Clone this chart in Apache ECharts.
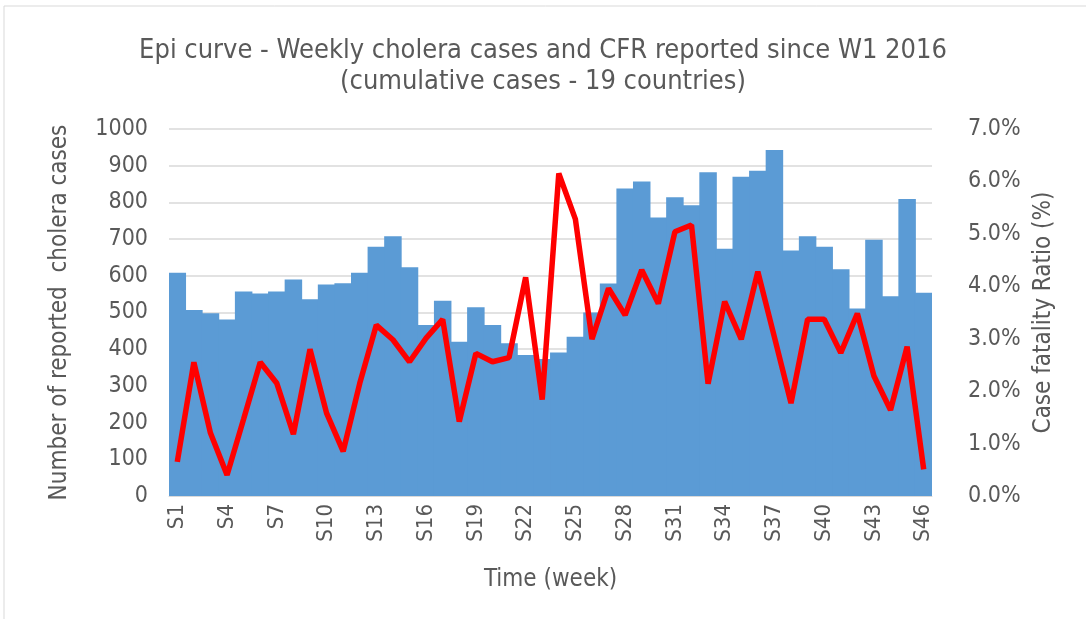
<!DOCTYPE html>
<html>
<head>
<meta charset="utf-8">
<script src="https://cdn.jsdelivr.net/npm/echarts@6/dist/echarts.min.js"></script>
<style>
  html, body { margin: 0; padding: 0; background: #fff; }
  #chart { width: 1086px; height: 619px; }
</style>
</head>
<body>
<div id="chart"></div>
<script>
// weeks S1..S46
var weeks = [];
for (var i = 1; i <= 46; i++) {
    weeks.push('S' + i);
}

// weekly cases
var cases = [608, 507, 498, 481, 557, 552, 557, 590, 536, 576,
             580, 608, 679, 708, 623, 466, 532, 420, 514, 466,
             416, 384, 373, 391, 434, 500, 579, 838, 857, 759,
             814, 792, 882, 674, 870, 886, 943, 669, 708, 679,
             618, 511, 698, 544, 809, 554];

// case fatality ratio (%)
var cfr = [0.65, 2.55, 1.20, 0.40, 1.47, 2.55, 2.15, 1.18, 2.80, 1.58,
           0.85, 2.15, 3.26, 2.98, 2.56, 3.01, 3.37, 1.42, 2.72, 2.56,
           2.64, 4.17, 1.84, 6.15, 5.28, 2.99, 3.96, 3.45, 4.31, 3.67,
           5.04, 5.17, 2.14, 3.71, 2.99, 4.28, 3.03, 1.77, 3.37, 3.37,
           2.73, 3.48, 2.29, 1.64, 2.85, 0.51];

var textColor = '#595959';
var fontFam = '"Liberation Sans Narrow", "DejaVu Sans Condensed", sans-serif';

var myChart = echarts.init(document.getElementById('chart'));
var option = {
    animation: false,
    textStyle: { fontFamily: fontFam, color: textColor },
    title: {
        text: 'Epi curve - Weekly cholera cases and CFR reported since W1 2016\n(cumulative cases - 19 countries)',
        left: 'center',
        top: 30,
        textStyle: {
            fontFamily: fontFam,
            fontWeight: 'normal',
            fontSize: 27,
            lineHeight: 31,
            color: textColor
        }
    },
    grid: {
        left: 169,
        right: 154,
        top: 129,
        bottom: 123
    },
    xAxis: {
        type: 'category',
        data: weeks,
        name: 'Time (week)',
        nameLocation: 'middle',
        nameGap: 72,
        nameTextStyle: { fontSize: 24, color: textColor, fontFamily: fontFam },
        axisLine: { lineStyle: { color: '#d9d9d9' } },
        axisTick: { show: false },
        axisLabel: {
            interval: 2,
            rotate: 90,
            fontSize: 22,
            color: textColor,
            margin: 8
        }
    },
    yAxis: [
        {
            type: 'value',
            min: 0,
            max: 1000,
            interval: 100,
            name: 'Number of reported  cholera cases',
            nameLocation: 'middle',
            nameGap: 97,
            nameTextStyle: { fontSize: 24, color: textColor, fontFamily: fontFam },
            axisLabel: {
                fontSize: 23,
                color: textColor,
                margin: 21,
                formatter: function (v) { return String(v); }
            },
            axisLine: { show: false },
            axisTick: { show: false },
            splitLine: { lineStyle: { color: '#d9d9d9', width: 1.5 } }
        },
        {
            type: 'value',
            min: 0,
            max: 7,
            interval: 1,
            name: 'Case fatality Ratio (%)',
            nameLocation: 'middle',
            nameGap: 98,
            nameTextStyle: { fontSize: 24, color: textColor, fontFamily: fontFam },
            axisLabel: {
                fontSize: 23,
                color: textColor,
                margin: 36,
                formatter: function (v) { return v.toFixed(1) + '%'; }
            },
            axisLine: { show: false },
            axisTick: { show: false },
            splitLine: { show: false }
        }
    ],
    series: [
        {
            name: 'Cases',
            type: 'bar',
            data: cases,
            barWidth: 17.5,
            itemStyle: { color: '#5b9bd5' }
        },
        {
            name: 'CFR',
            type: 'line',
            yAxisIndex: 1,
            data: cfr,
            showSymbol: false,
            symbol: 'none',
            lineStyle: { color: '#ff0000', width: 5.5 }
        }
    ],
    graphic: [{
        type: 'rect',
        shape: { x: 4, y: 6, width: 1100, height: 700 },
        style: { fill: 'none', stroke: '#d9d9d9', lineWidth: 1 },
        silent: true
    }]
};

myChart.setOption(option);
</script>
</body>
</html>
